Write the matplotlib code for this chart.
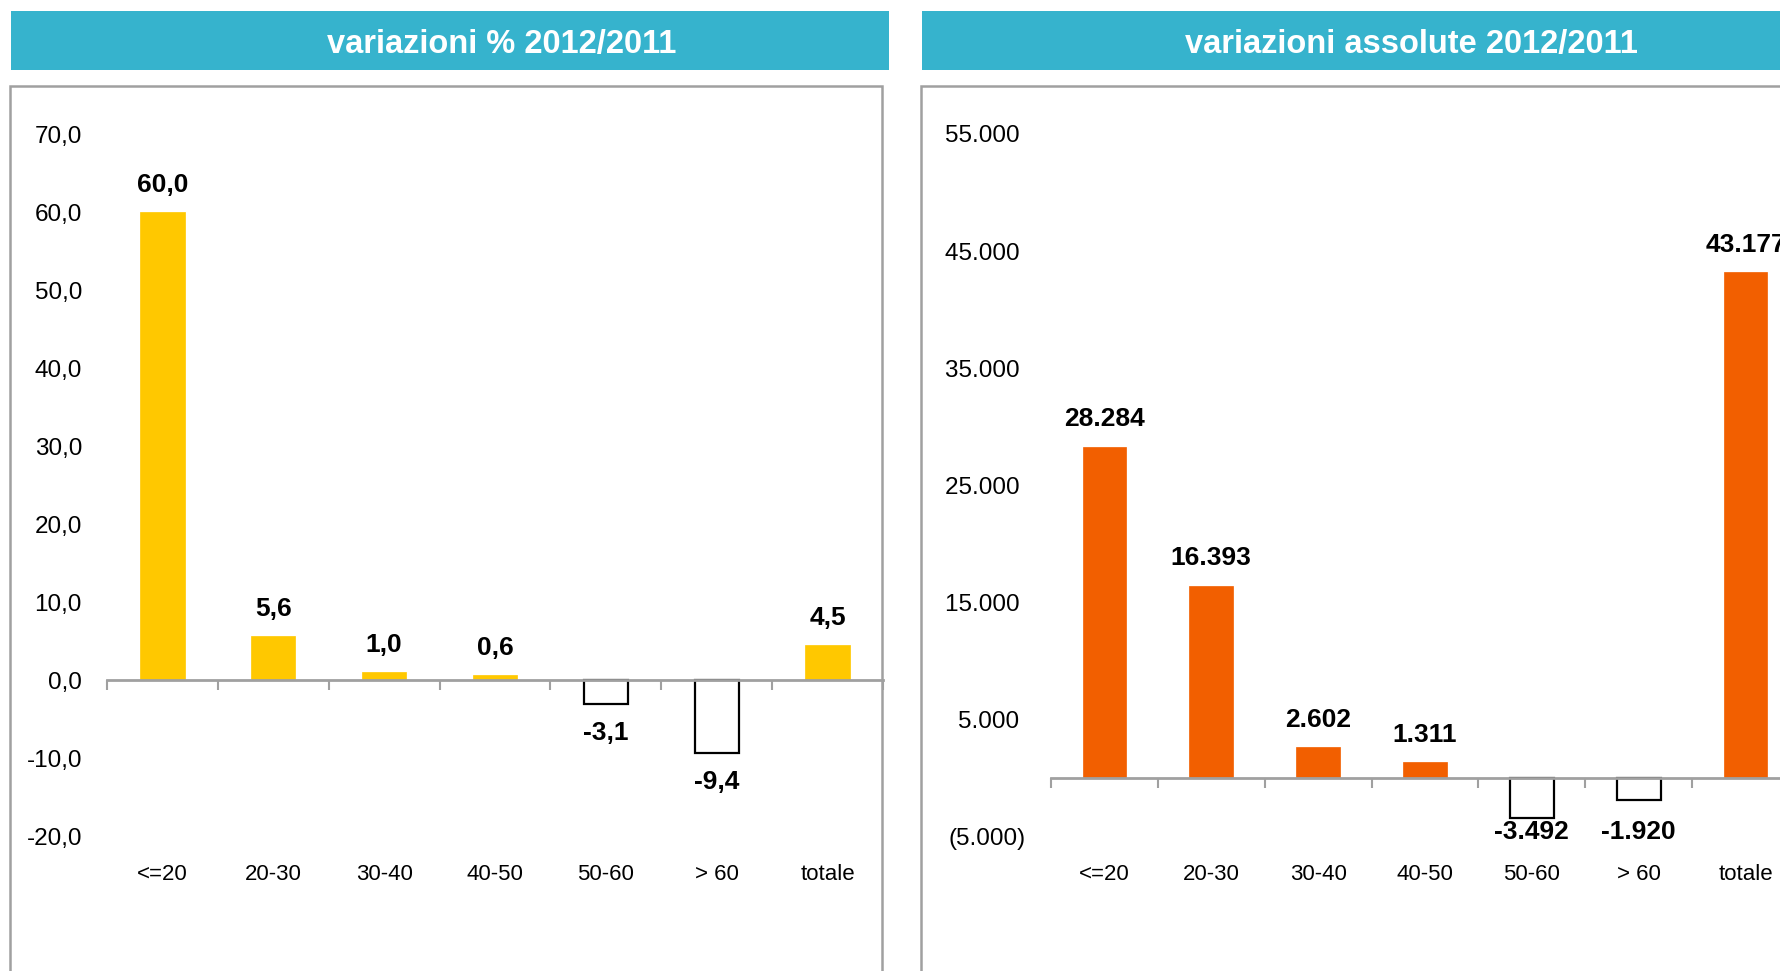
import numpy as np
import matplotlib
matplotlib.use("Agg")
import matplotlib.pyplot as plt
from matplotlib.patches import Rectangle

plt.rcParams['font.family'] = ['Liberation Sans', 'DejaVu Sans']

categories = ["<=20", "20-30", "30-40", "40-50", "50-60", "> 60", "totale"]
var_pct = [60.0, 5.6, 1.0, 0.6, -3.1, -9.4, 4.5]
var_abs = [28284, 16393, 2602, 1311, -3492, -1920, 43177]
pct_ticks = [-20, -10, 0, 10, 20, 30, 40, 50, 60, 70]
abs_ticks = [-5000, 5000, 15000, 25000, 35000, 45000, 55000]
titles = ["variazioni % 2012/2011", "variazioni assolute 2012/2011"]

W, H = 1780, 971
TEAL = "#36B3CD"
YELLOW = "#FFC800"
ORANGE = "#F25F00"
GRAY = "#A0A0A0"

fig = plt.figure(figsize=(W / 100, H / 100), dpi=100)


def px_axes(x0, y0, x1, y1):
    return fig.add_axes([x0 / W, 1 - y1 / H, (x1 - x0) / W, (y1 - y0) / H])


def px_rect(x0, y0, x1, y1, **kw):
    fig.patches.append(Rectangle((x0 / W, 1 - y1 / H), (x1 - x0) / W, (y1 - y0) / H,
                                 transform=fig.transFigure, **kw))


def fmt_pct(v):
    return f"{v:.1f}".replace(".", ",")


def fmt_abs(v):
    return f"{v:,.0f}".replace(",", ".")


def fmt_abs_tick(v):
    s = fmt_abs(abs(v))
    return f"({s})" if v < 0 else s + " "


def draw_panel(ax, values, color, ylim, ticks, tick_fmt, label_fmt, width):
    x = np.arange(len(categories))
    face = [color if v >= 0 else "white" for v in values]
    edge = [color if v >= 0 else "black" for v in values]
    lw = [0.5 if v >= 0 else 1.6 for v in values]
    ax.bar(x, values, width=width, color=face, edgecolor=edge, linewidth=lw, zorder=2)
    ax.set_xlim(-0.5, len(categories) - 0.5)
    ax.set_ylim(*ylim)
    for side in ["left", "right", "bottom"]:
        ax.spines[side].set_visible(False)
    ax.spines["top"].set_position(("data", 0))
    ax.spines["top"].set_color(GRAY)
    ax.spines["top"].set_linewidth(2)
    ax.spines["top"].set_zorder(3)
    ax.set_xticks(x, categories)
    ax.set_xticks(np.arange(-0.5, len(categories), 1), minor=True)
    ax.tick_params(axis="x", which="major", length=0, pad=20, labelsize=16)
    ax.tick_params(axis="x", which="minor", top=True, bottom=False, direction="in",
                   length=7, width=1.5, color=GRAY)
    ax.set_yticks(ticks, [tick_fmt(t) for t in ticks])
    ax.tick_params(axis="y", length=0, pad=18, labelsize=17.5)
    ax.patch.set_visible(False)

    # pixels per data unit, to keep negative labels inside the plot area
    px_unit = ax.bbox.height / (ylim[1] - ylim[0])
    need_px = (12 + 21) * fig.dpi / 72
    lab = dict(textcoords="offset points", ha="center", fontsize=19,
               fontweight="bold", annotation_clip=False)
    for xi, v in zip(x, values):
        if v >= 0:
            ax.annotate(label_fmt(v), (xi, v), xytext=(0, 11), va="bottom", **lab)
        elif (v - ylim[0]) * px_unit > need_px:
            ax.annotate(label_fmt(v), (xi, v), xytext=(0, -12), va="top", **lab)
        else:
            ax.annotate(label_fmt(v), (xi, 0), xycoords=ax.get_xaxis_transform(),
                        xytext=(0, -6), va="bottom", **lab)


# headers and panel frames
px_rect(11, 11, 889, 70, facecolor=TEAL, edgecolor="none")
px_rect(922, 11, 1800, 70, facecolor=TEAL, edgecolor="none")
px_rect(10, 86, 882, 1000, facecolor="none", edgecolor=GRAY, linewidth=1.8)
px_rect(921, 86, 1800, 1000, facecolor="none", edgecolor=GRAY, linewidth=1.8)
fig.text(502 / W, 1 - 45 / H, titles[0], ha="center", va="center", color="white",
         fontsize=23.5, fontweight="bold")
fig.text(1411 / W, 1 - 45 / H, titles[1], ha="center", va="center", color="white",
         fontsize=23.5, fontweight="bold")

ax1 = px_axes(107, 134, 883, 836)
draw_panel(ax1, var_pct, YELLOW, (-20, 70), pct_ticks, fmt_pct, fmt_pct, 0.4)

ax2 = px_axes(1051, 134, 1799, 836)
draw_panel(ax2, var_abs, ORANGE, (-5000, 55000), abs_ticks, fmt_abs_tick, fmt_abs, 0.41)

fig.savefig("out.png", dpi=100)
